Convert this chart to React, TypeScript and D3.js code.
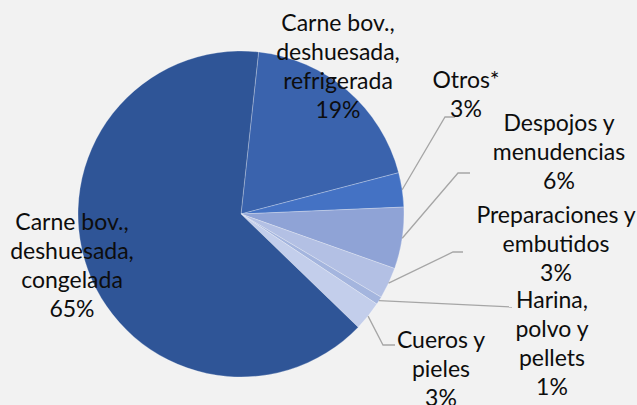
import React from "react";
import * as d3 from "d3";

const categories = [
  "Carne bov., deshuesada, refrigerada",
  "Otros*",
  "Despojos y menudencias",
  "Preparaciones y embutidos",
  "Harina, polvo y pellets",
  "Cueros y pieles",
  "Carne bov., deshuesada, congelada",
];
const values = [19.2, 3.4, 6.1, 3.1, 0.8, 2.9, 64.5];
const percentLabels = ["19%", "3%", "6%", "3%", "1%", "3%", "65%"];
const labelLines = [
  ["Carne bov.,", "deshuesada,", "refrigerada"],
  ["Otros*"],
  ["Despojos y", "menudencias"],
  ["Preparaciones y", "embutidos"],
  ["Harina,", "polvo y", "pellets"],
  ["Cueros y", "pieles"],
  ["Carne bov.,", "deshuesada,", "congelada"],
];
const colors = ["#3A63AD", "#4472C4", "#8FA3D6", "#B3C0E4", "#A4B5DE", "#C3CEEB", "#2F5597"];

// label layout (text centre x, first line centre y) and leader elbows
const labelLayout = [
  { x: 338, y: 23, leader: null },
  { x: 466, y: 80, leader: [[445, 117], [455, 117]] },
  { x: 559, y: 123, leader: [[458, 173], [470, 173]] },
  { x: 556, y: 215, leader: [[453, 252], [463, 252]] },
  { x: 552, y: 300, leader: [[512, 307]] },
  { x: 441, y: 340, leader: [[383, 345], [395, 345]] },
  { x: 72, y: 222, leader: null },
];

const W = 637;
const H = 405;
const cx = 241;
const cy = 214;
const R = 163;
const LINE = 29;
const startDeg = 6.2;

export default function App() {
  const pie = d3
    .pie<number>()
    .sort(null)
    .value((d) => d)
    .startAngle((startDeg * Math.PI) / 180)
    .endAngle(((startDeg + 360) * Math.PI) / 180);
  const arcs = pie(values);
  const arc = d3.arc<d3.PieArcDatum<number>>().innerRadius(0).outerRadius(R);
  const edge = d3.arc<d3.PieArcDatum<number>>().innerRadius(R).outerRadius(R);

  return (
    <svg
      width={W}
      height={H}
      style={{ position: "fixed", left: 0, top: 0, display: "block" }}
      fontFamily="Lato, 'Noto Sans', sans-serif"
    >
      <rect x={0} y={0} width={W} height={H} fill="#F2F2F2" />
      <g transform={`translate(${cx},${cy})`}>
        {arcs.map((a, i) => (
          <path
            key={categories[i]}
            d={arc(a) || ""}
            fill={colors[i]}
            stroke="#ffffff"
            strokeOpacity={0.35}
            strokeWidth={0.75}
          />
        ))}
      </g>
      {arcs.map((a, i) => {
        const lay = labelLayout[i];
        if (!lay.leader) return null;
        const c = edge.centroid(a);
        const pts: [number, number][] = [[cx + c[0], cy + c[1]], ...(lay.leader as [number, number][])];
        return (
          <path
            key={"l" + i}
            d={d3.line()(pts) || ""}
            fill="none"
            stroke="#A6A6A6"
            strokeWidth={1.3}
          />
        );
      })}
      {labelLines.map((lines, i) => {
        const lay = labelLayout[i];
        const all = [...lines, percentLabels[i]];
        return (
          <text
            key={"t" + i}
            textAnchor="middle"
            fontSize={23}
            fill="#0D0D0D"
          >
            {all.map((s, j) => (
              <tspan key={j} x={lay.x} y={lay.y + j * LINE} dy="0.35em">
                {s}
              </tspan>
            ))}
          </text>
        );
      })}
    </svg>
  );
}
